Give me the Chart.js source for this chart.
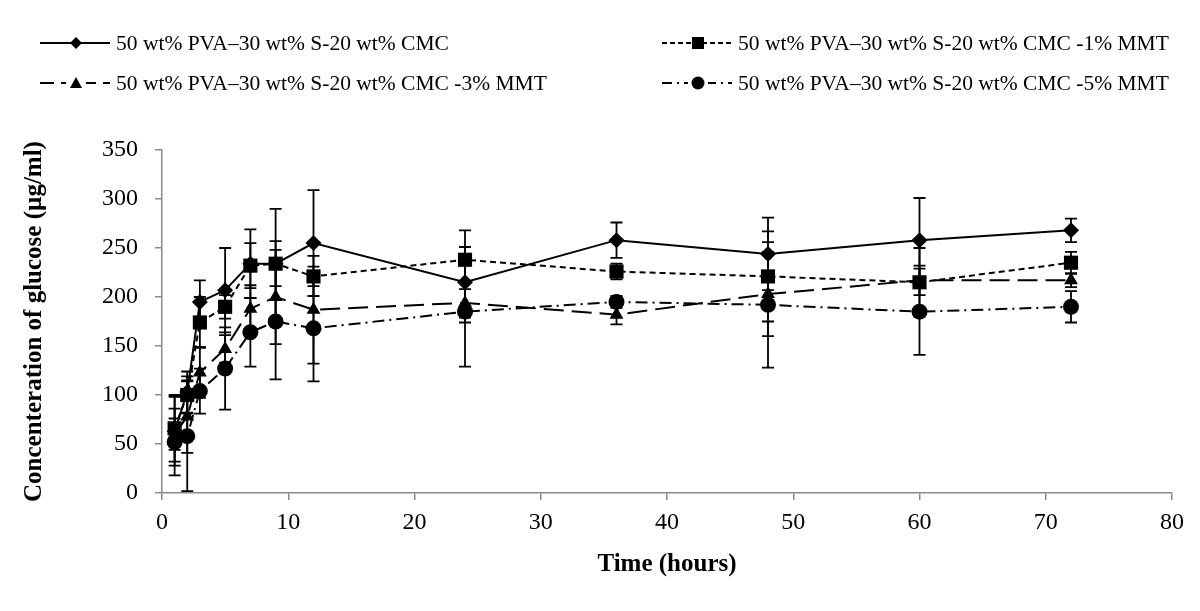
<!DOCTYPE html>
<html>
<head>
<meta charset="utf-8">
<script src="https://cdn.jsdelivr.net/npm/chart.js@4.4.0/dist/chart.umd.min.js"></script>
<style>
    body { margin: 0; background: #fff; font-family: "Liberation Serif", "Times New Roman", serif; }
    #wrap { position: relative; width: 1200px; height: 611px; }
    .ley { position: absolute; height: 24px; display: flex; align-items: center; font-size: 21.5px; color: #000; white-space: nowrap; }
    .ley svg { margin-right: 6px; }
</style>
</head>
<body>
<div id="wrap">
    <canvas id="grafica"></canvas>
    <div class="ley" style="left:40px; top:31px;">
        <svg width="70" height="24"><line x1="0" y1="12" x2="70" y2="12" stroke="#000" stroke-width="2"/><polygon points="36,6 42,12 36,18 30,12" fill="#000"/></svg>
        <span>50 wt% PVA–30 wt% S-20 wt% CMC</span>
    </div>
    <div class="ley" style="left:662px; top:31px;">
        <svg width="70" height="24"><line x1="0" y1="12" x2="70" y2="12" stroke="#000" stroke-width="2" stroke-dasharray="5,3"/><rect x="30" y="6" width="12" height="12" fill="#000"/></svg>
        <span>50 wt% PVA–30 wt% S-20 wt% CMC -1% MMT</span>
    </div>
    <div class="ley" style="left:40px; top:71px;">
        <svg width="70" height="24"><line x1="0" y1="12" x2="70" y2="12" stroke="#000" stroke-width="2" stroke-dasharray="14,7"/><rect x="26" y="4" width="20" height="16" fill="#fff"/><polygon points="36,6 42,17 30,17" fill="#000"/></svg>
        <span>50 wt% PVA–30 wt% S-20 wt% CMC -3% MMT</span>
    </div>
    <div class="ley" style="left:662px; top:71px;">
        <svg width="70" height="24"><line x1="0" y1="12" x2="70" y2="12" stroke="#000" stroke-width="2" stroke-dasharray="10,5,2,5"/><rect x="26" y="4" width="20" height="16" fill="#fff"/><circle cx="36" cy="12" r="6.5" fill="#000"/></svg>
        <span>50 wt% PVA–30 wt% S-20 wt% CMC -5% MMT</span>
    </div>
</div>
<script>
// tiempos de muestreo (horas)
const tiempos = [1, 2, 3, 5, 7, 9, 12, 24, 36, 48, 60, 72];

const nombres = [
    "50 wt% PVA–30 wt% S-20 wt% CMC",
    "50 wt% PVA–30 wt% S-20 wt% CMC -1% MMT",
    "50 wt% PVA–30 wt% S-20 wt% CMC -3% MMT",
    "50 wt% PVA–30 wt% S-20 wt% CMC -5% MMT"
];

// concentracion de glucosa (µg/ml) y desviaciones
const serieBase = [63, 103, 195, 207, 234, 234, 255, 215, 258, 244, 258, 268];
const errorBase = [35, 21, 22, 43, 35, 23, 54, 36, 18, 37, 43, 12];
const serieMMT1 = [66, 100, 174, 190, 232, 234, 221, 238, 226, 221, 215, 235];
const errorMMT1 = [34, 19, 26, 12, 23, 56, 10, 30, 8, 46, 35, 11];
const serieMMT3 = [60, 78, 123, 147, 188, 200, 187, 194, 182, 203, 217, 217];
const errorMMT3 = [16, 37, 26, 14, 24, 48, 55, 20, 10, 43, 15, 7];
const serieMMT5 = [52, 58, 104, 127, 164, 175, 168, 185, 195, 192, 185, 190];
const errorMMT5 = [34, 56, 23, 42, 35, 59, 54, 56, 6, 64, 44, 16];

const ticksY = [0, 50, 100, 150, 200, 250, 300, 350];
const ticksX = [0, 10, 20, 30, 40, 50, 60, 70, 80];

const fuente = "'Liberation Serif', 'Times New Roman', serif";
const gris = '#8a8a8a';

const aPuntos = serie => tiempos.map((t, i) => ({ x: t, y: serie[i] }));

// barras de error dibujadas con las escalas del grafico
const barrasError = {
    id: 'barrasError',
    beforeDatasetsDraw(chart) {
        const { ctx, scales: { x, y } } = chart;
        ctx.save();
        ctx.strokeStyle = '#000';
        ctx.lineWidth = 1.8;
        chart.data.datasets.forEach(ds => {
            ds.data.forEach((p, i) => {
                const e = ds.errores[i];
                const px = x.getPixelForValue(p.x);
                const arriba = y.getPixelForValue(p.y + e);
                const abajo = y.getPixelForValue(p.y - e);
                ctx.beginPath();
                ctx.moveTo(px, arriba); ctx.lineTo(px, abajo);
                ctx.moveTo(px - 6, arriba); ctx.lineTo(px + 6, arriba);
                ctx.moveTo(px - 6, abajo); ctx.lineTo(px + 6, abajo);
                ctx.stroke();
            });
        });
        ctx.restore();
    }
};

const comun = { borderColor: '#000', backgroundColor: '#000', pointBackgroundColor: '#000', pointBorderColor: '#000', borderWidth: 2, tension: 0, pointBorderWidth: 0 };

new Chart(document.getElementById('grafica'), {
    type: 'line',
    data: {
        datasets: [
            { ...comun, label: nombres[0], data: aPuntos(serieBase), errores: errorBase, pointStyle: 'rectRot', pointRadius: 8 },
            { ...comun, label: nombres[1], data: aPuntos(serieMMT1), errores: errorMMT1, pointStyle: 'rect', pointRadius: 10, borderDash: [6, 4] },
            { ...comun, label: nombres[2], data: aPuntos(serieMMT3), errores: errorMMT3, pointStyle: 'triangle', pointRadius: 8, borderDash: [20, 8] },
            { ...comun, label: nombres[3], data: aPuntos(serieMMT5), errores: errorMMT5, pointStyle: 'circle', pointRadius: 8, borderDash: [12, 5, 2, 5] }
        ]
    },
    options: {
        responsive: true,
        maintainAspectRatio: false,
        animation: false,
        layout: { padding: { top: 150, right: 28, left: 0, bottom: 0 } },
        plugins: { legend: { display: false }, tooltip: { enabled: false } },
        scales: {
            x: {
                type: 'linear', min: 0, max: 80,
                afterBuildTicks: s => { s.ticks = ticksX.map(v => ({ value: v })); },
                afterFit: s => { s.height = 118; },
                grid: { drawOnChartArea: false, color: gris, tickLength: 7, lineWidth: 1.5 },
                border: { color: gris, width: 1.5 },
                ticks: { color: '#000', font: { family: fuente, size: 24 }, padding: 8 },
                title: { display: true, text: 'Time (hours)', color: '#000', font: { family: fuente, size: 25, weight: 'bold' }, padding: { top: 0, bottom: 31 } }
            },
            y: {
                min: 0, max: 350,
                afterBuildTicks: s => { s.ticks = ticksY.map(v => ({ value: v })); },
                afterFit: s => { s.width = 162; },
                grid: { drawOnChartArea: false, color: gris, tickLength: 7, lineWidth: 1.5 },
                border: { color: gris, width: 1.5 },
                ticks: { color: '#000', font: { family: fuente, size: 24 }, padding: 17 },
                title: { display: true, text: 'Concenteration of glucose (µg/ml)', color: '#000', font: { family: fuente, size: 25, weight: 'bold' }, padding: { top: 20, bottom: 0 } }
            }
        }
    },
    plugins: [barrasError]
});
</script>
</body>
</html>
